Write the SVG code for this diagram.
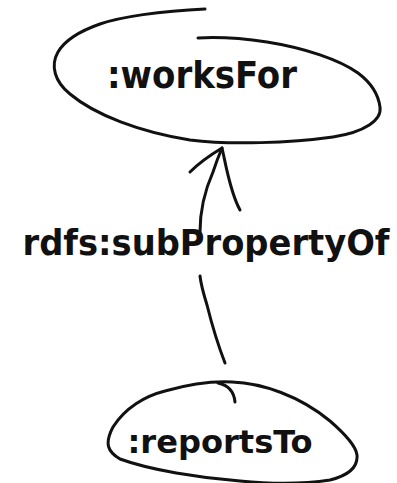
<svg xmlns="http://www.w3.org/2000/svg" width="397" height="483" viewBox="0 0 397 483">
<style>
.s{fill:none;stroke:#111;stroke-width:3;stroke-linecap:round;stroke-linejoin:round}
.t{font-family:"DejaVu Sans Condensed","DejaVu Sans",sans-serif;font-weight:bold;fill:#111;text-anchor:middle}
</style>
<rect width="397" height="483" fill="#fff"/>
<g id="worksFor">
<path class="s" d="M205,9 C160,11 120,17 100,24 C80,31 65,40 58,52 C50,66 55,82 70,94 C95,115 140,132 190,140 C230,145 290,143 333,137 C365,132 382,120 380,107 C378,92 370,82 358,73 C340,60 305,48 267,42 C240,38 215,37 198,38"/>
<text class="t" x="202" y="88" font-size="38" textLength="190" lengthAdjust="spacingAndGlyphs">:worksFor</text>
</g>
<g id="reportsTo">
<path class="s" d="M113,427 C125,408 145,396 165,391 C190,384 212,381 232,382 C262,383 300,396 330,421 C345,434 356,446 357,455 C358,466 350,475 330,480 C305,484 270,484 240,481 C200,478 150,470 120,459 C108,452 104,444 113,427"/>
<path class="s" d="M218,383 C228,385 234,392 235,402"/>
<text class="t" x="220" y="453" font-size="32" textLength="185" lengthAdjust="spacingAndGlyphs">:reportsTo</text>
</g>
<g id="connectors">
<path class="s" d="M225,363 C218,345 212,325 207,305 C203,292 201,285 200,276"/>
<path class="s" d="M200,232 C200,210 205,190 213,172 C216,163 219,155 222,148"/>
<path class="s" d="M190,172 C198,164 212,154 222,148 C226,165 230,192 240,210"/>
<text class="t" x="206" y="255" font-size="36" textLength="367" lengthAdjust="spacingAndGlyphs">rdfs:subPropertyOf</text>
</g>
</svg>
